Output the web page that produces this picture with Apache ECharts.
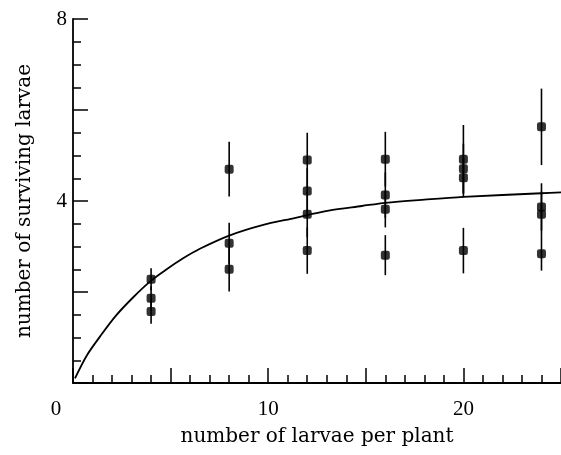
<!DOCTYPE html>
<html>
<head>
<meta charset="utf-8">
<script src="https://cdn.jsdelivr.net/npm/echarts@6/dist/echarts.min.js"></script>
<style>
  html, body { margin: 0; padding: 0; background: #fff; }
  #chart { width: 561px; height: 455px; }
</style>
</head>
<body>
<div id="chart"></div>
<script>
// Larval density (per plant) for each observation
const density = [4, 4, 4, 8, 8, 8, 12, 12, 12, 12, 16, 16, 16, 16, 20, 20, 20, 20, 24, 24, 24, 24];
// Mean number of surviving larvae
const survivors = [2.28, 1.86, 1.57, 4.70, 3.07, 2.50, 4.90, 4.22, 3.71, 2.91, 4.92, 4.13, 3.82, 2.81, 4.92, 4.71, 4.51, 2.91, 5.63, 3.87, 3.71, 2.84];
// Standard error of each mean
const stdErr = [0.24, 0.26, 0.27, 0.60, 0.45, 0.49, 0.60, 0.50, 0.50, 0.51, 0.60, 0.50, 0.40, 0.44, 0.75, 0.55, 0.43, 0.50, 0.84, 0.52, 0.50, 0.37];

// Fitted survival curve
const curveX = [0.1, 0.7, 1.4, 2.2, 3.1, 4.0, 4.8, 5.6, 6.5, 8.0, 9.7, 11.4, 12.0, 13.1, 14.8, 16.0, 18.0, 20.0, 24.0, 25.0];
const curveY = [0.10, 0.60, 1.03, 1.48, 1.89, 2.25, 2.50, 2.73, 2.95, 3.24, 3.47, 3.63, 3.69, 3.79, 3.89, 3.96, 4.03, 4.09, 4.17, 4.19];

// Tick labels that are printed
const xTickLabels = [0, 10, 20];
const yTickLabels = [4, 8];

const ink = '#000';
const textFont = 'DejaVu Serif';
const tickFont = 'Liberation Serif';

const points = density.map((d, i) => [d, survivors[i]]);
const bars = density.map((d, i) => [d, survivors[i] - stdErr[i], survivors[i] + stdErr[i]]);
const curve = curveX.map((x, i) => [x, curveY[i]]);

const chart = echarts.init(document.getElementById('chart'), null, { renderer: 'canvas' });

chart.setOption({
  animation: false,
  backgroundColor: '#fff',
  grid: { left: 73, right: -2, top: 19, bottom: 72, containLabel: false },
  xAxis: {
    type: 'value',
    min: 0,
    max: 25,
    interval: 5,
    name: 'number of larvae per plant',
    nameLocation: 'middle',
    nameGap: 44,
    nameTextStyle: { fontFamily: textFont, fontSize: 20, color: ink },
    axisLine: { show: true, onZero: false, lineStyle: { color: ink, width: 1.8 } },
    axisTick: { show: true, inside: true, length: 15, lineStyle: { color: ink, width: 1.5 } },
    minorTick: { show: true, splitNumber: 5, length: 8, lineStyle: { color: ink, width: 1.5 } },
    splitLine: { show: false },
    axisLabel: {
      margin: 16,
      fontFamily: tickFont,
      fontSize: 21,
      color: ink,
      showMaxLabel: false,
      formatter: v => {
        if (!xTickLabels.includes(v)) return '';
        return v === 0 ? '{o|0}' : String(v);
      },
      rich: { o: { fontFamily: tickFont, fontSize: 21, color: ink, padding: [0, 34, 0, 0] } }
    }
  },
  yAxis: {
    type: 'value',
    min: 0,
    max: 8,
    interval: 2,
    name: 'number of surviving larvae',
    nameLocation: 'middle',
    nameGap: 38,
    nameRotate: 90,
    nameTextStyle: { fontFamily: textFont, fontSize: 20, color: ink },
    axisLine: { show: true, onZero: false, lineStyle: { color: ink, width: 1.8 } },
    axisTick: { show: true, inside: true, length: 15, lineStyle: { color: ink, width: 1.5 } },
    minorTick: { show: true, splitNumber: 4, length: 8, lineStyle: { color: ink, width: 1.5 } },
    splitLine: { show: false },
    axisLabel: {
      margin: 6,
      fontFamily: tickFont,
      fontSize: 21,
      color: ink,
      formatter: v => (yTickLabels.includes(v) ? String(v) : '')
    }
  },
  series: [
    {
      name: 'fit',
      type: 'line',
      data: curve,
      smooth: 0.3,
      showSymbol: false,
      lineStyle: { color: ink, width: 1.8 },
      z: 3
    },
    {
      name: 'error',
      type: 'custom',
      data: bars,
      encode: { x: 0, y: [1, 2] },
      renderItem: (params, api) => {
        const top = api.coord([api.value(0), api.value(2)]);
        const bottom = api.coord([api.value(0), api.value(1)]);
        return {
          type: 'line',
          shape: { x1: top[0], y1: top[1], x2: bottom[0], y2: bottom[1] },
          style: { stroke: ink, lineWidth: 1.6 }
        };
      },
      z: 4
    },
    {
      name: 'survivors',
      type: 'scatter',
      data: points,
      symbol: 'roundRect',
      symbolSize: [9, 9],
      itemStyle: { color: ink },
      z: 5
    }
  ]
});
</script>
</body>
</html>
